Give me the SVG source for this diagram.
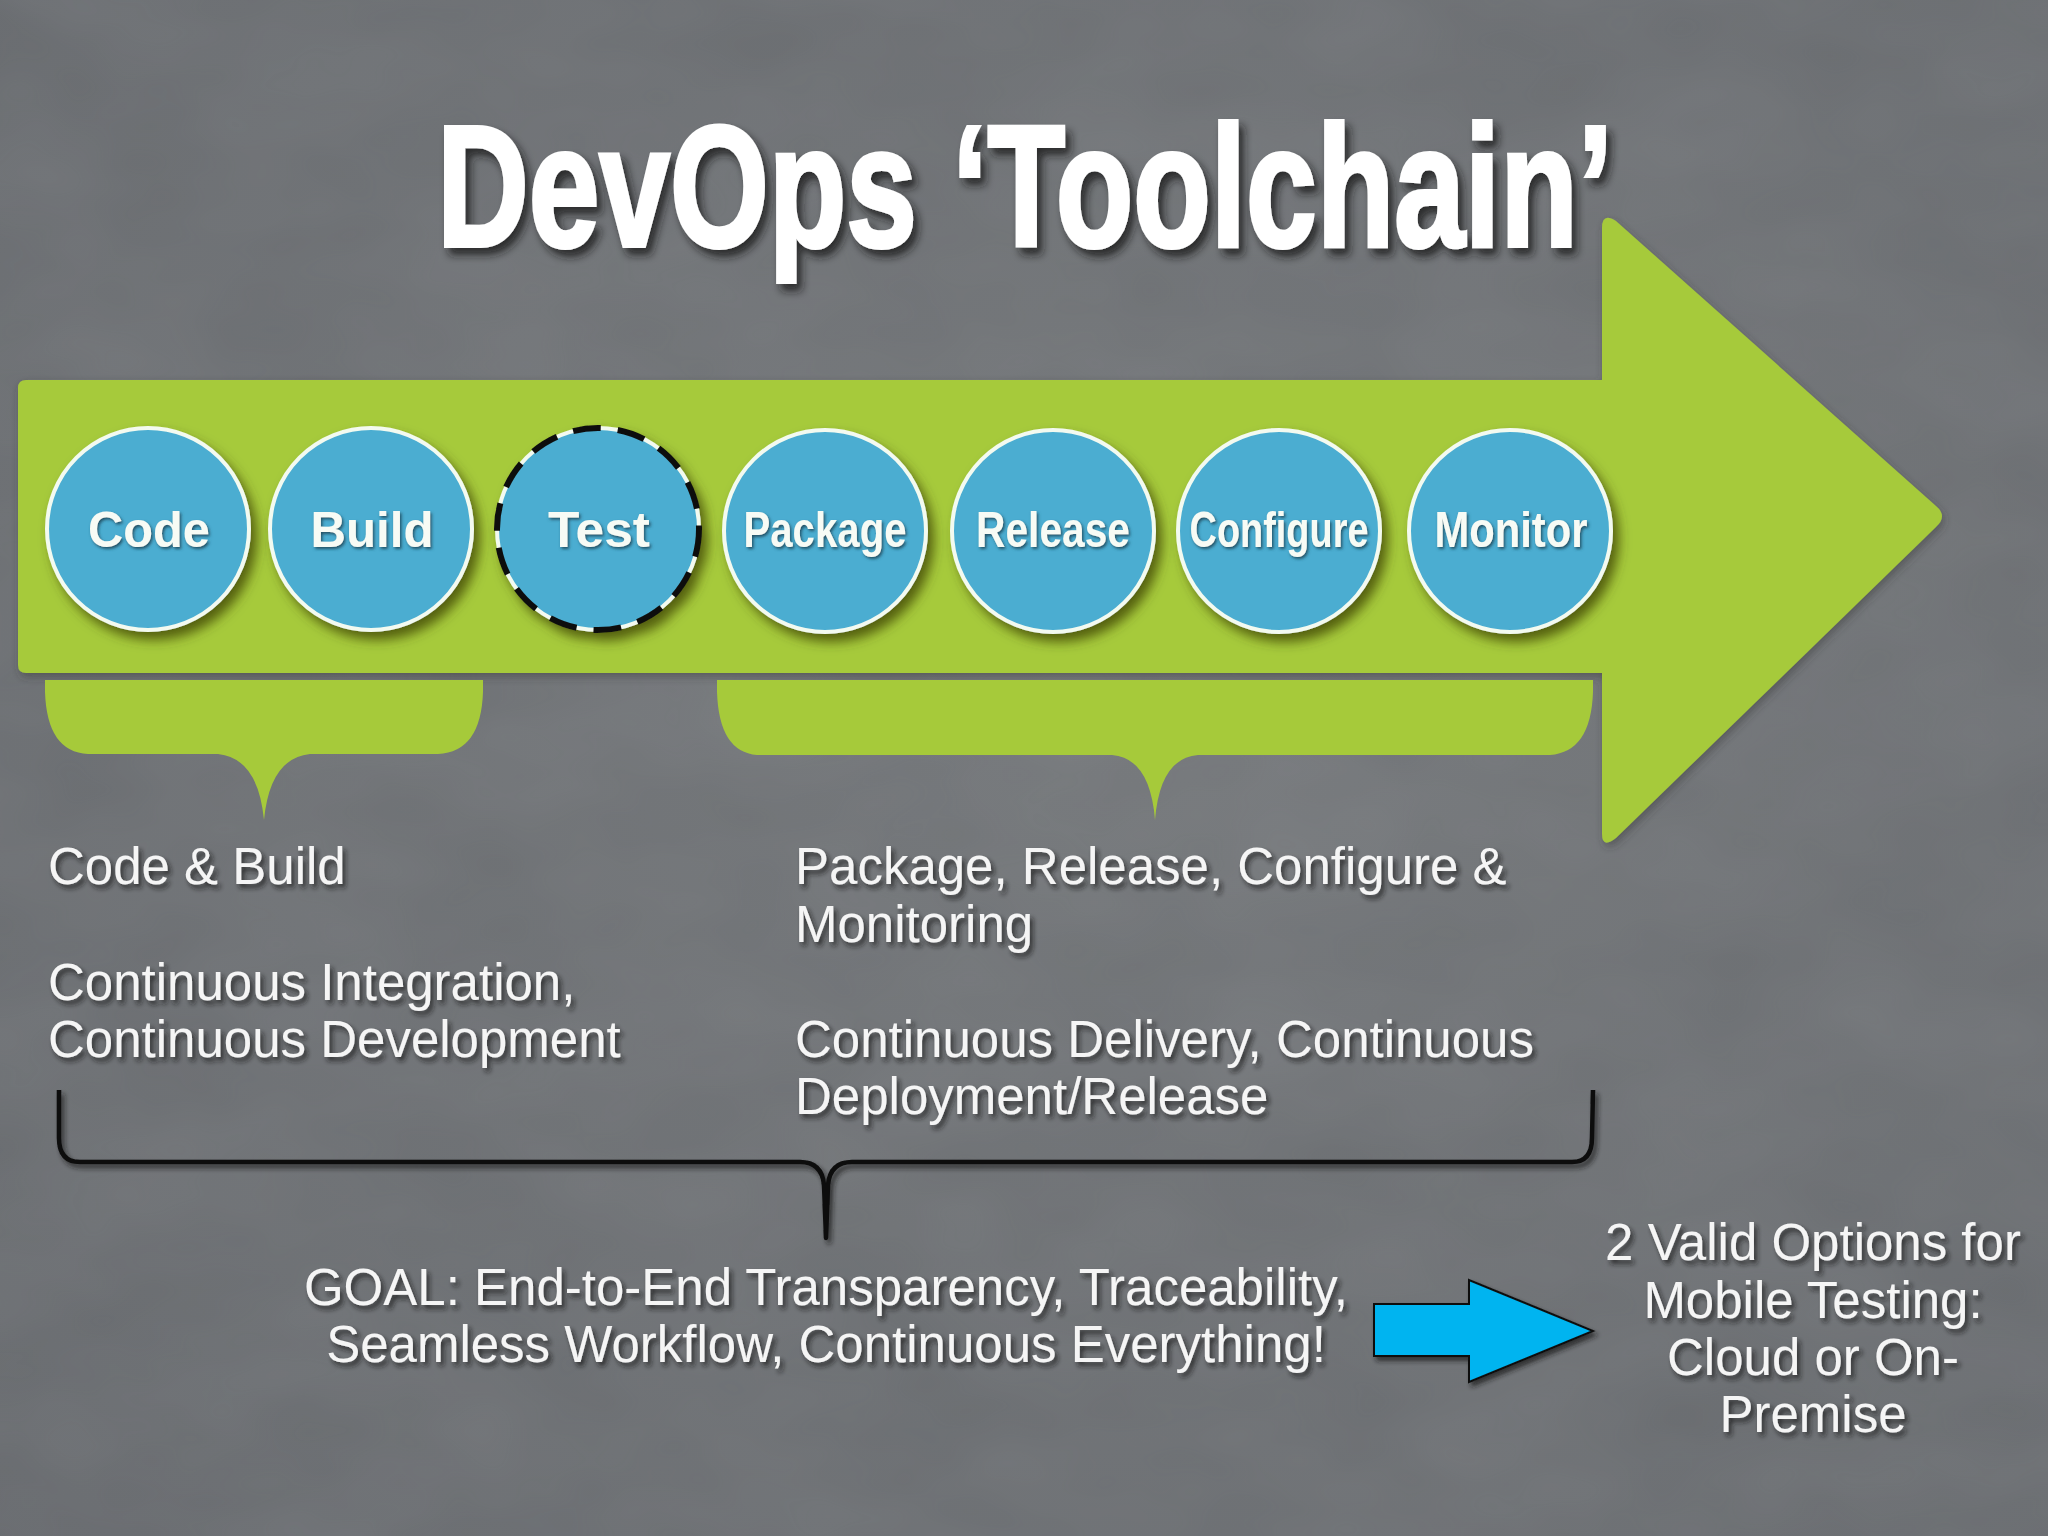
<svg xmlns="http://www.w3.org/2000/svg" width="2048" height="1536" viewBox="0 0 2048 1536">
<defs>
<radialGradient id="bg" cx="0.55" cy="0.45" r="0.8">
<stop offset="0" stop-color="#737679"/>
<stop offset="1" stop-color="#66696d"/>
</radialGradient>
<filter id="noise" x="0" y="0" width="100%" height="100%">
<feTurbulence type="fractalNoise" baseFrequency="0.005 0.009" numOctaves="3" seed="7" result="n"/>
<feColorMatrix in="n" type="matrix" values="0 0 0 0 0.47  0 0 0 0 0.48  0 0 0 0 0.5  0 0 0 0.3 0"/>
</filter>
<filter id="sh" x="-10%" y="-20%" width="130%" height="150%">
<feDropShadow dx="3" dy="4" stdDeviation="2.5" flood-color="#1a1a1a" flood-opacity="0.75"/>
</filter>
<filter id="tsh" x="-5%" y="-10%" width="110%" height="130%">
<feDropShadow dx="5" dy="7" stdDeviation="4" flood-color="#1e1e1e" flood-opacity="0.8"/>
</filter>
<filter id="csh" x="-20%" y="-20%" width="150%" height="150%">
<feDropShadow dx="6" dy="8" stdDeviation="6" flood-color="#3a3d05" flood-opacity="0.75"/>
</filter>
<filter id="lsh" x="-10%" y="-20%" width="130%" height="150%">
<feDropShadow dx="1.5" dy="2" stdDeviation="1.5" flood-color="#1c4a5c" flood-opacity="0.9"/>
</filter>
<filter id="gsh" x="-5%" y="-5%" width="110%" height="115%">
<feDropShadow dx="2" dy="4" stdDeviation="4" flood-color="#333" flood-opacity="0.45"/>
</filter>
</defs>
<style>
.lbl{font-family:"Liberation Sans",Arial,sans-serif;font-weight:bold;font-size:50px;fill:#f7fbf5;text-anchor:middle;filter:url(#lsh)}
.txt{font-family:"Liberation Sans",Arial,sans-serif;font-size:51px;fill:#f5f5f5;filter:url(#sh)}
.ctr{text-anchor:middle}
.disc{fill:#4badd1;stroke:#f3faf0;stroke-width:4}
.green{fill:#a6ca3a}
</style>

<rect width="2048" height="1536" fill="url(#bg)"/>
<rect width="2048" height="1536" filter="url(#noise)" opacity="0.5"/>

<g id="title">
<text x="437" y="246" font-family="'Liberation Sans Narrow','Liberation Sans',Arial,sans-serif" font-weight="bold" font-size="172" fill="#ffffff" stroke="#ffffff" stroke-width="4" textLength="1176" lengthAdjust="spacingAndGlyphs" filter="url(#tsh)">DevOps ‘Toolchain’</text>
</g>

<g id="pipeline-arrow">
<path class="green" filter="url(#gsh)" d="M18,388 Q18,380 26,380 L1602,380 L1602,228 Q1602,212 1616,221 L1936,506 Q1948,516 1936,527 L1616,838 Q1602,849 1602,834 L1602,673 L26,673 Q18,673 18,665 Z"/>
</g>

<g id="code-build-brace">
<path class="green" d="M45,680 L483,680 L483,692 Q481,752 438,754 L310,754 Q270,758 264,820 Q258,758 218,754 L88,754 Q47,752 45,692 Z"/>
</g>
<g id="package-monitor-brace">
<path class="green" d="M717,680 L1593,680 L1593,692 Q1591,752 1550,755 L1198,755 Q1160,758 1155,820 Q1150,758 1112,755 L757,755 Q719,752 717,692 Z"/>
</g>

<g id="node-code" filter="url(#csh)">
<circle class="disc" cx="148" cy="529" r="101"/>
<text class="lbl" x="149" y="547" textLength="122" lengthAdjust="spacingAndGlyphs">Code</text>
</g>
<g id="node-build" filter="url(#csh)">
<circle class="disc" cx="371" cy="529" r="101"/>
<text class="lbl" x="372" y="547" textLength="123" lengthAdjust="spacingAndGlyphs">Build</text>
</g>
<g id="node-test" filter="url(#csh)">
<circle class="disc" cx="598" cy="529" r="101"/>
<circle cx="598" cy="529" r="101" fill="none" stroke="#111" stroke-width="6" stroke-dasharray="28 17"/>
<text class="lbl" x="599" y="547" textLength="102" lengthAdjust="spacingAndGlyphs">Test</text>
</g>
<g id="node-package" filter="url(#csh)">
<circle class="disc" cx="825" cy="531" r="101"/>
<text class="lbl" x="825" y="547" textLength="163" lengthAdjust="spacingAndGlyphs">Package</text>
</g>
<g id="node-release" filter="url(#csh)">
<circle class="disc" cx="1053" cy="531" r="101"/>
<text class="lbl" x="1053" y="547" textLength="154" lengthAdjust="spacingAndGlyphs">Release</text>
</g>
<g id="node-configure" filter="url(#csh)">
<circle class="disc" cx="1279" cy="531" r="101"/>
<text class="lbl" x="1279" y="547" textLength="179" lengthAdjust="spacingAndGlyphs">Configure</text>
</g>
<g id="node-monitor" filter="url(#csh)">
<circle class="disc" cx="1510" cy="531" r="101"/>
<text class="lbl" x="1511" y="547" textLength="153" lengthAdjust="spacingAndGlyphs">Monitor</text>
</g>

<g id="text-left">
<text class="txt" x="48" y="884">Code &amp; Build</text>
<text class="txt" x="48" y="1000">Continuous Integration,</text>
<text class="txt" x="48" y="1057">Continuous Development</text>
</g>
<g id="text-right">
<text class="txt" x="795" y="884">Package, Release, Configure &amp;</text>
<text class="txt" x="795" y="942">Monitoring</text>
<text class="txt" x="795" y="1057">Continuous Delivery, Continuous</text>
<text class="txt" x="795" y="1114">Deployment/Release</text>
</g>

<g id="connectors">
<path filter="url(#sh)" d="M59,1090 L59,1138 Q59,1162 80,1162 L800,1162 Q822,1162 824,1185 L826,1238 L828,1185 Q830,1162 852,1162 L1572,1162 Q1592,1162 1592,1138 L1593,1090" fill="none" stroke="#0d0d0d" stroke-width="4.5" stroke-linejoin="round"/>
<path filter="url(#sh)" d="M1374,1304 L1469,1304 L1469,1280 L1593,1331 L1469,1382 L1469,1356 L1374,1356 Z" fill="#00b4f0" stroke="#111" stroke-width="2"/>
</g>

<g id="goal">
<text class="txt ctr" x="826" y="1305">GOAL: End-to-End Transparency, Traceability,</text>
<text class="txt ctr" x="826" y="1362">Seamless Workflow, Continuous Everything!</text>
</g>
<g id="options">
<text class="txt ctr" x="1813" y="1260">2 Valid Options for</text>
<text class="txt ctr" x="1813" y="1318">Mobile Testing:</text>
<text class="txt ctr" x="1813" y="1375">Cloud or On-</text>
<text class="txt ctr" x="1813" y="1432">Premise</text>
</g>
</svg>
